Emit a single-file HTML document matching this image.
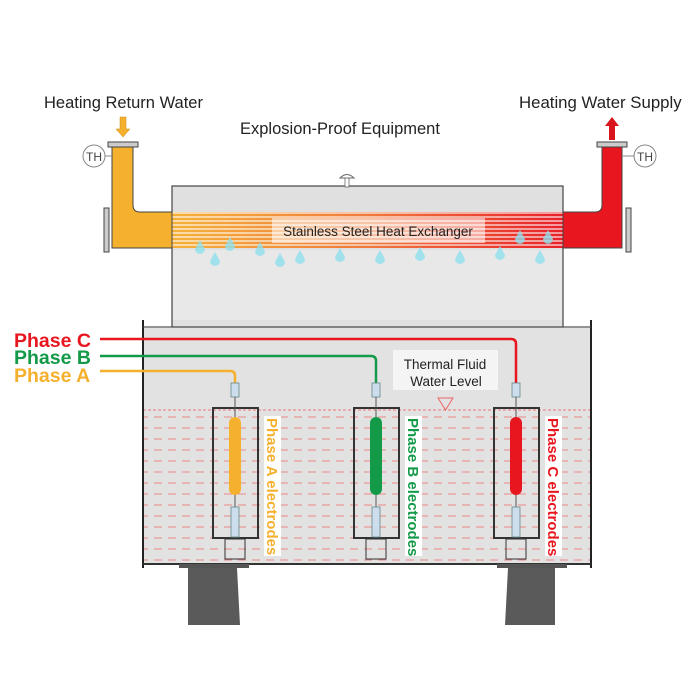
<!DOCTYPE html>
<html><head><style>
html,body{margin:0;padding:0;background:#fff;}
svg{display:block;font-family:"Liberation Sans",sans-serif;}
</style></head><body>
<svg width="700" height="700" viewBox="0 0 700 700">
<defs>
<linearGradient id="hx" x1="0" x2="1" y1="0" y2="0">
<stop offset="0" stop-color="#f6b13a"/><stop offset="0.5" stop-color="#ef7a3c"/><stop offset="1" stop-color="#e8202a"/>
</linearGradient>
<pattern id="stripes" width="10" height="4" patternUnits="userSpaceOnUse">
<rect width="10" height="2" fill="#fff" opacity="0.55"/>
</pattern>
<pattern id="water" width="14" height="11" patternUnits="userSpaceOnUse" x="0" y="412">
<line x1="0" y1="5" x2="8" y2="5" stroke="#e88" stroke-width="1"/>
</pattern>
</defs>
<rect x="143" y="326" width="448" height="238" fill="#e2e2e2"/>
<rect x="143" y="410" width="448" height="154" fill="url(#water)"/>
<line x1="143" y1="410" x2="591" y2="410" stroke="#e77" stroke-width="1" stroke-dasharray="3,2"/>
<line x1="143" y1="320" x2="143" y2="568" stroke="#222" stroke-width="2"/>
<line x1="591" y1="320" x2="591" y2="568" stroke="#222" stroke-width="2"/>
<line x1="143" y1="564" x2="591" y2="564" stroke="#333" stroke-width="2"/>
<rect x="172" y="186" width="391" height="141" fill="#e0e0e0" stroke="#444" stroke-width="1.2"/>
<rect x="173" y="250" width="389" height="70" fill="#ebebeb" opacity="0.7"/>
<line x1="143" y1="327" x2="173" y2="327" stroke="#444"/>
<line x1="563" y1="327" x2="591" y2="327" stroke="#444"/>
<path d="M340 178 q7 -7 14 0 z" fill="#fff" stroke="#666"/>
<rect x="345" y="178" width="4" height="9" fill="#fff" stroke="#666" stroke-width="0.8"/>
<rect x="172" y="212" width="391" height="36" fill="url(#hx)"/>
<rect x="172" y="212" width="391" height="36" fill="url(#stripes)"/>
<rect x="272" y="218" width="213" height="25" fill="#fff" opacity="0.55"/>
<text x="378" y="236" font-size="13.5" text-anchor="middle" fill="#222">Stainless Steel Heat Exchanger</text>
<g fill="#8fe0ee" opacity="0.8">
<path d="M200 240 l-5 9 a5 5 0 0 0 10 0z"/><path d="M230 237 l-5 9 a5 5 0 0 0 10 0z"/>
<path d="M260 242 l-5 9 a5 5 0 0 0 10 0z"/><path d="M300 250 l-5 9 a5 5 0 0 0 10 0z"/>
<path d="M340 248 l-5 9 a5 5 0 0 0 10 0z"/><path d="M380 250 l-5 9 a5 5 0 0 0 10 0z"/>
<path d="M420 247 l-5 9 a5 5 0 0 0 10 0z"/><path d="M460 250 l-5 9 a5 5 0 0 0 10 0z"/>
<path d="M500 246 l-5 9 a5 5 0 0 0 10 0z"/><path d="M540 250 l-5 9 a5 5 0 0 0 10 0z"/>
<path d="M520 230 l-5 9 a5 5 0 0 0 10 0z"/><path d="M548 230 l-5 9 a5 5 0 0 0 10 0z"/>
<path d="M215 252 l-5 9 a5 5 0 0 0 10 0z"/><path d="M280 253 l-5 9 a5 5 0 0 0 10 0z"/>
</g>
<path d="M112 146 H133 V205 q0 7 7 7 H172 V248 H112 Z" fill="#f5b02e" stroke="#444"/>
<rect x="108" y="142" width="30" height="5" fill="#ccc" stroke="#444"/>
<rect x="104" y="208" width="5" height="44" fill="#ccc" stroke="#444"/>
<path d="M120 117 h6 v12 h4 l-7 8 l-7 -8 h4z" fill="#f5b02e" stroke="#c88a10" stroke-width="0.5"/>
<circle cx="94" cy="156" r="11" fill="#fff" stroke="#888"/>
<text x="94" y="161" font-size="12" text-anchor="middle" fill="#444">TH</text>
<line x1="105" y1="156" x2="112" y2="156" stroke="#888"/>
<path d="M602 146 H622 V248 H563 V212 H595 q7 0 7 -7 Z" fill="#e8161f" stroke="#444"/>
<rect x="597" y="142" width="30" height="5" fill="#ccc" stroke="#444"/>
<rect x="626" y="208" width="5" height="44" fill="#ccc" stroke="#444"/>
<path d="M609 140 h6 v-14 h4 l-7 -9 l-7 9 h4z" fill="#d8141c"/>
<circle cx="645" cy="156" r="11" fill="#fff" stroke="#888"/>
<text x="645" y="161" font-size="12" text-anchor="middle" fill="#444">TH</text>
<line x1="622" y1="156" x2="634" y2="156" stroke="#888"/>
<text x="44" y="108" font-size="16.5" fill="#222">Heating Return Water</text>
<text x="519" y="108" font-size="16.8" fill="#222">Heating Water Supply</text>
<text x="240" y="134" font-size="16.5" fill="#222">Explosion-Proof Equipment</text>
<path d="M100 339 H511 q5 0 5 5 V386" fill="none" stroke="#e8161f" stroke-width="2.5"/>
<path d="M100 356 H371 q5 0 5 5 V386" fill="none" stroke="#129a48" stroke-width="2.5"/>
<path d="M100 371 H230 q5 0 5 5 V386" fill="none" stroke="#f5b02e" stroke-width="2.5"/>
<g font-weight="bold" font-size="19.5">
<text x="14" y="347" fill="#e8161f">Phase C</text>
<text x="14" y="364" fill="#129a48">Phase B</text>
<text x="14" y="382" fill="#f5b02e">Phase A</text>
</g>
<rect x="393" y="350" width="105" height="40" fill="#f4f4f4"/>
<text x="445" y="369" font-size="13.5" text-anchor="middle" fill="#222">Thermal Fluid</text>
<text x="446" y="386" font-size="13.5" text-anchor="middle" fill="#222">Water Level</text>
<path d="M438 398 h15 l-7.5 12z" fill="none" stroke="#e66"/>
<g stroke="#333">
<g transform="translate(235,0)">
<rect x="-22" y="408" width="45" height="130" fill="none" stroke-width="2"/>
<rect x="-4" y="383" width="8" height="14" fill="#cde" stroke="#688" stroke-width="0.8"/>
<line x1="0" y1="397" x2="0" y2="418" stroke="#555"/>
<rect x="-6" y="417" width="12" height="78" rx="6" fill="#f5b02e" stroke="none"/>
<line x1="0" y1="495" x2="0" y2="538" stroke="#555"/>
<rect x="-4" y="507" width="8" height="30" fill="#cde" stroke="#688" stroke-width="0.8"/>
<rect x="-10" y="539" width="20" height="20" fill="none" stroke-width="1"/>
</g>
<g transform="translate(376,0)">
<rect x="-22" y="408" width="45" height="130" fill="none" stroke-width="2"/>
<rect x="-4" y="383" width="8" height="14" fill="#cde" stroke="#688" stroke-width="0.8"/>
<line x1="0" y1="397" x2="0" y2="418" stroke="#555"/>
<rect x="-6" y="417" width="12" height="78" rx="6" fill="#129a48" stroke="none"/>
<line x1="0" y1="495" x2="0" y2="538" stroke="#555"/>
<rect x="-4" y="507" width="8" height="30" fill="#cde" stroke="#688" stroke-width="0.8"/>
<rect x="-10" y="539" width="20" height="20" fill="none" stroke-width="1"/>
</g>
<g transform="translate(516,0)">
<rect x="-22" y="408" width="45" height="130" fill="none" stroke-width="2"/>
<rect x="-4" y="383" width="8" height="14" fill="#cde" stroke="#688" stroke-width="0.8"/>
<line x1="0" y1="397" x2="0" y2="418" stroke="#555"/>
<rect x="-6" y="417" width="12" height="78" rx="6" fill="#e8161f" stroke="none"/>
<line x1="0" y1="495" x2="0" y2="538" stroke="#555"/>
<rect x="-4" y="507" width="8" height="30" fill="#cde" stroke="#688" stroke-width="0.8"/>
<rect x="-10" y="539" width="20" height="20" fill="none" stroke-width="1"/>
</g>
</g>
<rect x="264" y="416" width="17" height="140" fill="#fff"/>
<rect x="405" y="416" width="17" height="140" fill="#fff"/>
<rect x="545" y="416" width="17" height="140" fill="#fff"/>
<g font-weight="bold" font-size="15">
<text transform="translate(267,418) rotate(90)" fill="#f5b02e">Phase A electrodes</text>
<text transform="translate(408,418) rotate(90)" fill="#129a48">Phase B electrodes</text>
<text transform="translate(548,418) rotate(90)" fill="#e8161f">Phase C electrodes</text>
</g>
<rect x="179" y="564" width="70" height="4" fill="#555"/>
<path d="M188 568 H237 L240 625 H188 Z" fill="#5a5a5a"/>
<rect x="497" y="564" width="70" height="4" fill="#555"/>
<path d="M508 568 H555 V625 H505 Z" fill="#5a5a5a"/>
</svg>
</body></html>
